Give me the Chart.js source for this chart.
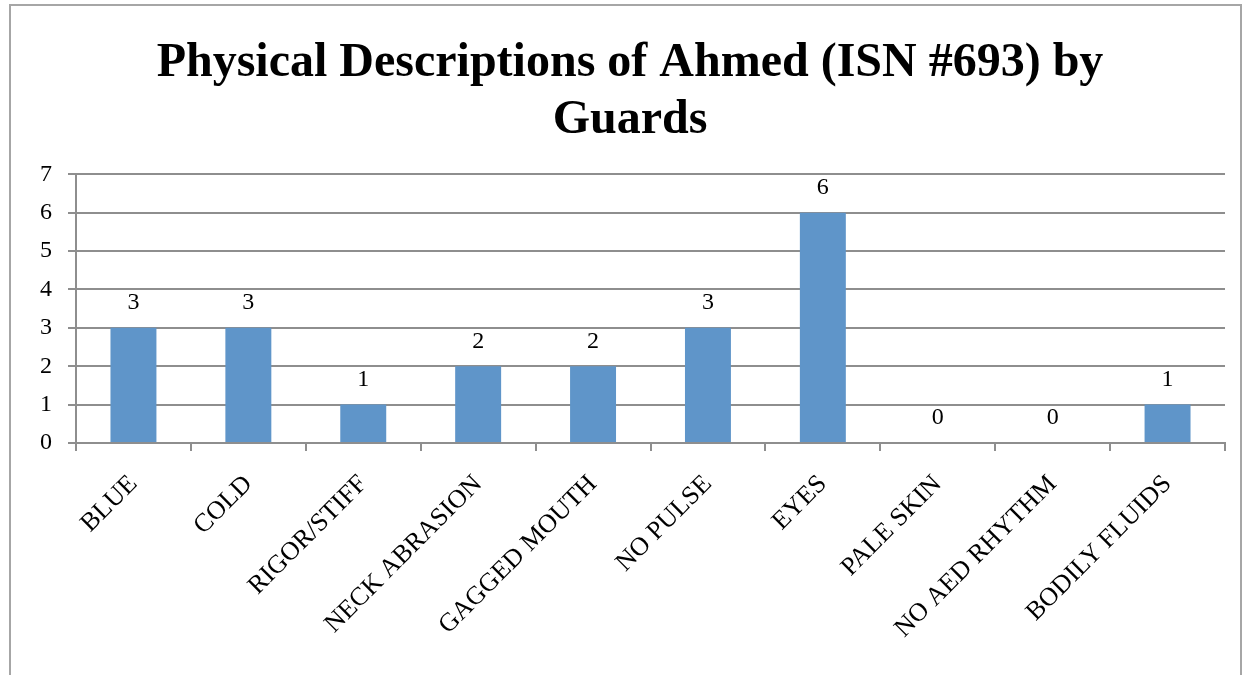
<!DOCTYPE html>
<html>
<head>
<meta charset="utf-8">
<script src="https://cdn.jsdelivr.net/npm/chart.js@4/dist/chart.umd.min.js"></script>
<style>
  html, body { margin: 0; padding: 0; background: #fff; }
  #wrap { position: relative; width: 1250px; height: 675px; overflow: hidden; }
  #frame { position: absolute; left: 9px; top: 4px; width: 1233px; height: 700px; border: 2px solid #a6a6a6; box-sizing: border-box; }
  canvas { position: absolute; left: 0; top: 0; }
</style>
</head>
<body>
<div id="wrap">
  <div id="frame"></div>
  <canvas id="chart" width="1250" height="675"></canvas>
</div>
<script>
// ═══════════ DATA ═══════════
const categories = ['BLUE', 'COLD', 'RIGOR/STIFF', 'NECK ABRASION', 'GAGGED MOUTH', 'NO PULSE', 'EYES', 'PALE SKIN', 'NO AED RHYTHM', 'BODILY FLUIDS'];
const counts = [3, 3, 1, 2, 2, 3, 6, 0, 0, 1];
const titleLines = ['Physical Descriptions of Ahmed (ISN #693) by', 'Guards'];

const serif = '"Liberation Serif", "Times New Roman", serif';
const gridColor = '#8e8e8e';

// --- value labels above bars ---
const valueLabels = {
    id: 'valueLabels',
    afterDatasetsDraw(chart) {
        const ctx = chart.ctx;
        const meta = chart.getDatasetMeta(0);
        ctx.save();
        ctx.font = '24px ' + serif;
        ctx.fillStyle = '#000';
        ctx.textAlign = 'center';
        ctx.textBaseline = 'middle';
        meta.data.forEach((bar, i) => {
            ctx.fillText(String(counts[i]), bar.x, bar.y - 25);
        });
        ctx.restore();
    }
};

new Chart(document.getElementById('chart'), {
    type: 'bar',
    data: {
        labels: categories,
        datasets: [{
            data: counts,
            backgroundColor: '#5f95c9',
            borderWidth: 0,
            barPercentage: 0.4,
            categoryPercentage: 1
        }]
    },
    options: {
        responsive: false,
        animation: false,
        layout: { padding: { left: 35, right: 25, top: 0, bottom: 0 } },
        plugins: {
            legend: { display: false },
            tooltip: { enabled: false },
            title: {
                display: true,
                text: titleLines,
                color: '#000',
                font: { family: serif, size: 48, weight: 'bold', lineHeight: 1.19 },
                padding: { top: 35, bottom: 25 }
            }
        },
        scales: {
            x: {
                grid: { drawOnChartArea: false, drawTicks: true, tickLength: 8, color: gridColor, lineWidth: 2 },
                border: { display: true, color: gridColor, width: 2 },
                ticks: {
                    color: '#000',
                    font: { family: serif, size: 26 },
                    maxRotation: 45,
                    minRotation: 45,
                    padding: 18,
                    autoSkip: false
                },
                afterFit(scale) { scale.height = 232; }
            },
            y: {
                min: 0,
                max: 7,
                grid: { color: gridColor, lineWidth: 2, tickLength: 8 },
                border: { display: true, color: gridColor, width: 2 },
                ticks: {
                    stepSize: 1,
                    color: '#000',
                    font: { family: serif, size: 24 },
                    padding: 16
                },
                afterFit(scale) { scale.width = 41; }
            }
        }
    },
    plugins: [valueLabels]
});
</script>
</body>
</html>
